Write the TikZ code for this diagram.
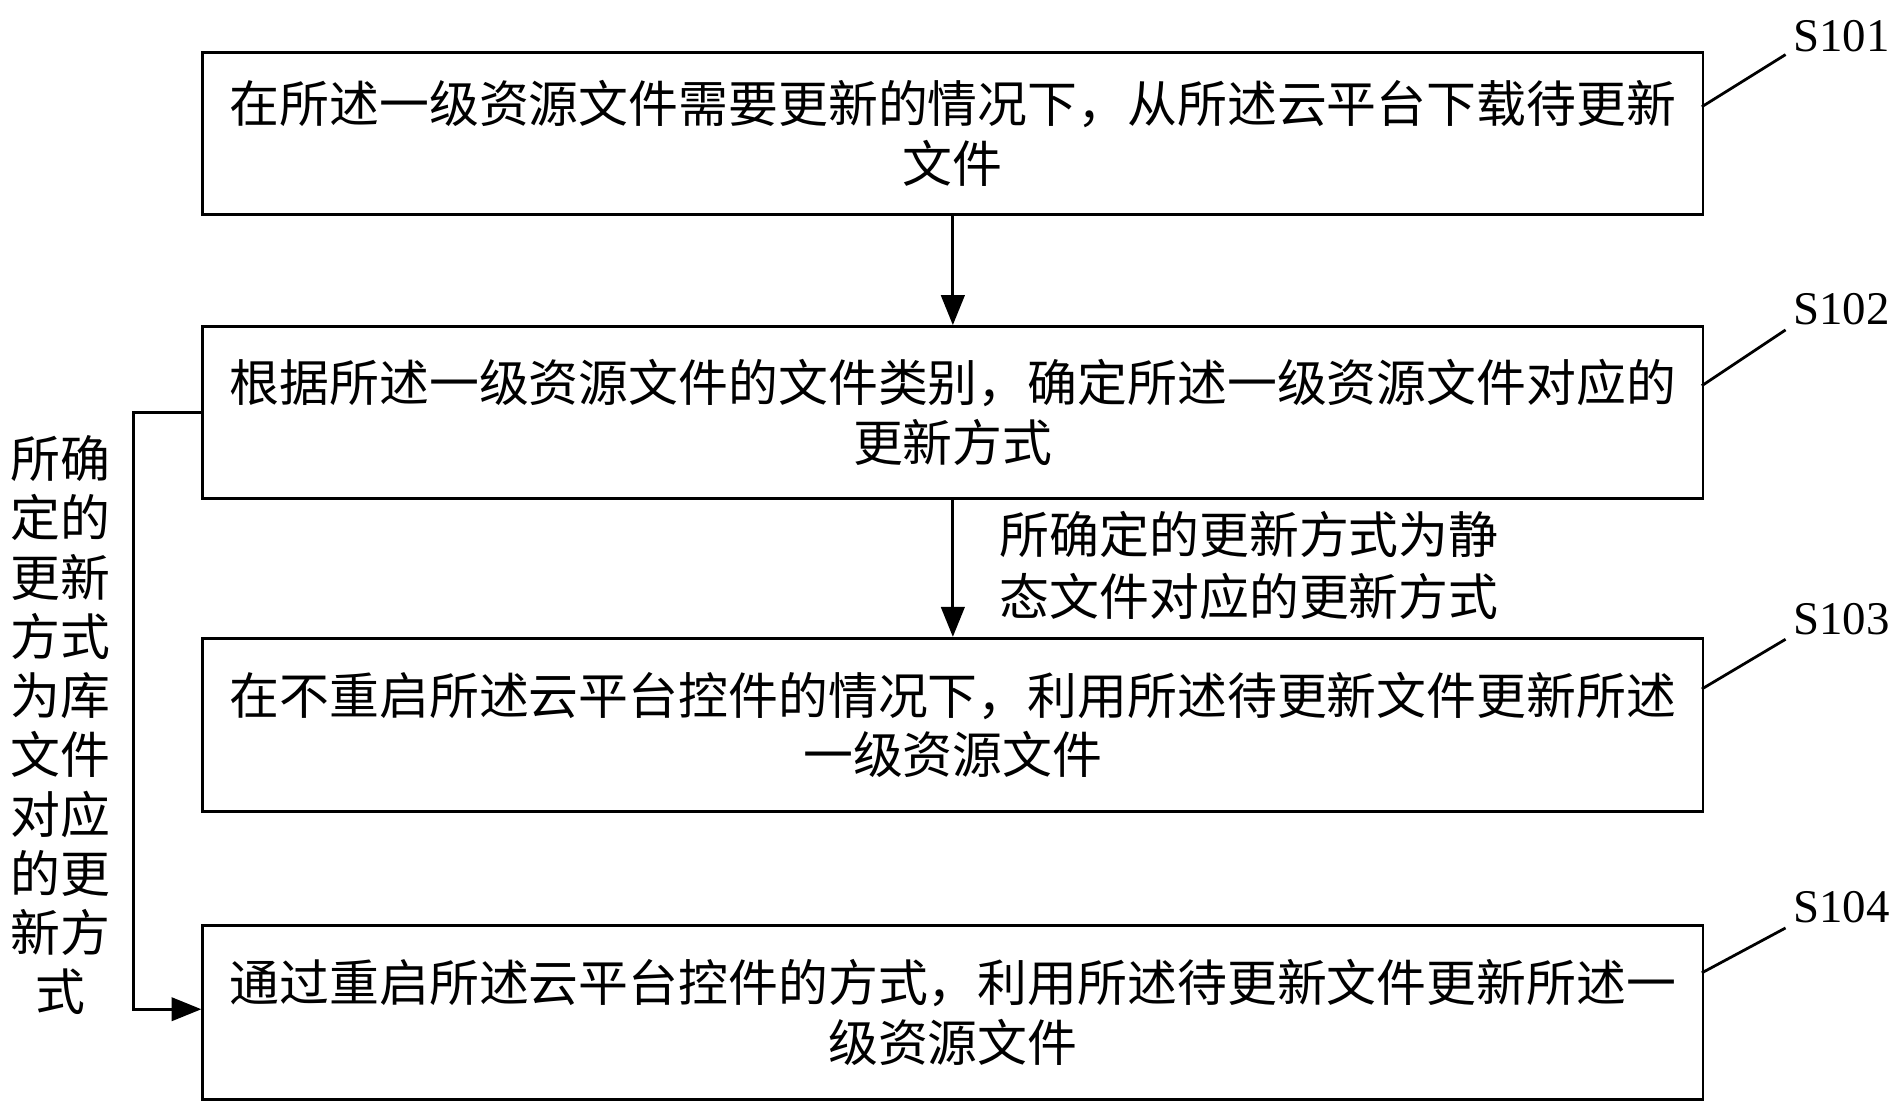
\documentclass[tikz,border=0pt]{standalone}
\usepackage{fontspec}
\setmainfont{Liberation Serif}
\newfontfamily\cjk{Noto Sans CJK SC}
\usetikzlibrary{arrows.meta}
\begin{document}
\begin{tikzpicture}[x=0.02cm,y=-0.02cm,
  stepbox/.style={draw,line width=1.3pt,minimum width=24.74cm,inner sep=0pt,anchor=north west,align=center,text width=24.5cm,font=\cjk\fontsize{23.4}{28}\selectfont},
  arr/.style={line width=1.3pt,-{Triangle[length=14pt,width=11pt]}},
  lbl/.style={font=\fontsize{22}{26}\selectfont},
  lead/.style={line width=1.3pt},
  ctext/.style={font=\cjk\fontsize{23.4}{29}\selectfont,align=left}]
\useasboundingbox (0,0) rectangle (1568,912);
\node[stepbox,minimum height=2.68cm] (b1) at (166,42) {在所述一级资源文件需要更新的情况下，从所述云平台下载待更新\\文件};
\node[stepbox,minimum height=2.84cm] (b2) at (166,268) {根据所述一级资源文件的文件类别，确定所述一级资源文件对应的\\更新方式};
\node[stepbox,minimum height=2.86cm] (b3) at (166,525) {在不重启所述云平台控件的情况下，利用所述待更新文件更新所述\\一级资源文件};
\node[stepbox,minimum height=2.86cm] (b4) at (166,762) {通过重启所述云平台控件的方式，利用所述待更新文件更新所述一\\级资源文件};
\draw[arr] (b1.south) -- (b2.north);
\draw[arr] (b2.south) -- (b3.north);
\node[ctext,anchor=west] (m) at (818,466) {所确定的更新方式为静\\态文件对应的更新方式};
\coordinate (l1) at (110,340);
\coordinate (l2) at (110,832);
\draw[arr] (b2.west |- l1) -- (l1) -- (l2) -- (b4.west |- l2);
\node[ctext,align=center,font=\cjk\fontsize{23.4}{27.8}\selectfont] (v) at (50,598) {所确\\定的\\更新\\方式\\为库\\文件\\对应\\的更\\新方\\式};
\foreach \n/\y/\t in {1/30/S101,2/255/S102,3/510/S103,4/748/S104}{
  \node[lbl] (s\n) at (1518,\y) {\t};
}
\coordinate (c1) at (1403,88); \coordinate (d1) at (1472,45);
\coordinate (c2) at (1403,318); \coordinate (d2) at (1472,272);
\coordinate (c3) at (1403,568); \coordinate (d3) at (1472,527);
\coordinate (c4) at (1403,802); \coordinate (d4) at (1472,765);
\foreach \n in {1,2,3,4}{\draw[lead] (c\n) -- (d\n);}
\end{tikzpicture}
\end{document}
